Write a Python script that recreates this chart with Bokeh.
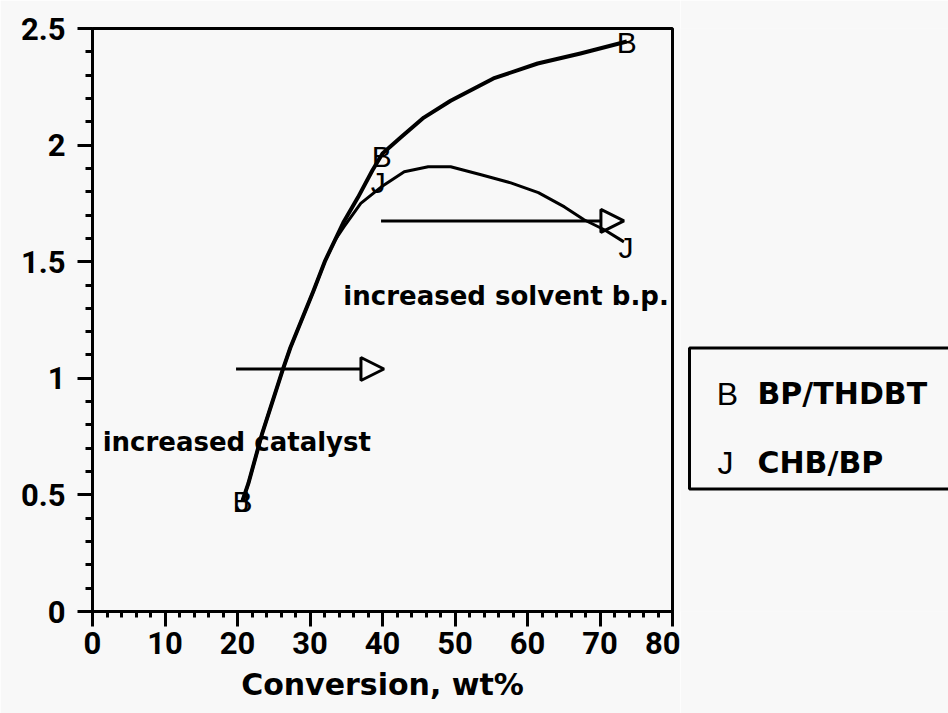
from bokeh.plotting import figure
from bokeh.models import Range1d, FixedTicker, Arrow, NormalHead, Label
from bokeh.layouts import row
from bokeh.embed import file_html
from bokeh.resources import INLINE
from bokeh.core.properties import value

# ---------------- data ----------------
series_names = ["BP/THDBT", "CHB/BP"]
series_symbols = ["B", "J"]

conv_bp = [20.7, 39.9, 73.7]
ratio_bp = [0.47, 1.95, 2.44]
conv_chb = [20.7, 39.4, 73.6]
ratio_chb = [0.47, 1.84, 1.56]

curve_bp_x = [20.7, 21.5, 23.4, 26.2, 27.3, 30.5, 32.1, 34.6, 36.6, 38.6, 40.0,
              42.5, 45.7, 49.4, 55.3, 61.4, 67.3, 73.7]
curve_bp_y = [0.476, 0.549, 0.763, 1.033, 1.132, 1.376, 1.505, 1.668, 1.775, 1.891, 1.964,
              2.033, 2.118, 2.19, 2.286, 2.35, 2.393, 2.444]

curve_chb_x = [20.7, 21.5, 23.4, 26.2, 27.3, 30.5, 32.1, 33.5, 34.7, 37.0, 39.8,
               43.0, 46.3, 49.4, 53.6, 57.7, 61.5, 65.1, 67.8, 70.6, 73.3]
curve_chb_y = [0.476, 0.549, 0.763, 1.033, 1.132, 1.376, 1.505, 1.595, 1.65, 1.75, 1.82,
               1.886, 1.907, 1.907, 1.873, 1.838, 1.796, 1.735, 1.68, 1.637, 1.585]

arrow_x_start = [19.8, 39.8]
arrow_x_end = [40.2, 73.3]
arrow_y = [1.04, 1.675]
note_texts = ["increased catalyst", "increased solvent b.p."]
note_x = [1.4, 34.6]
note_y = [0.725, 1.355]

x_ticks = [0, 10, 20, 30, 40, 50, 60, 70, 80]
y_ticks = [0, 0.5, 1, 1.5, 2, 2.5]
y_tick_labels = ["0", "0.5", "1", "1.5", "2", "2.5"]
x_label = "Conversion, wt%"

# ---------------- style ----------------
BG = "#f8f8f8"
BOLD_FONT = "DejaVu Sans"
TICK_FONT = "Roboto"
SYM_FONT = "Liberation Sans"
H = 713

p = figure(width=680, height=H, x_range=Range1d(0, 80), y_range=Range1d(0, 2.5),
           toolbar_location=None, output_backend="svg",
           min_border_left=92, min_border_right=8, min_border_top=28, min_border_bottom=102)
p.background_fill_color = BG
p.border_fill_color = BG
p.grid.visible = False
p.outline_line_color = "black"
p.outline_line_width = 3

xa = p.xaxis[0]
xa.ticker = FixedTicker(ticks=x_ticks, minor_ticks=[v for v in range(0, 81, 2)])
ya = p.yaxis[0]
ya.ticker = FixedTicker(ticks=y_ticks, minor_ticks=[v / 10 for v in range(0, 26)])
ya.major_label_overrides = dict(zip(y_ticks, y_tick_labels))

for ax in (xa, ya):
    ax.axis_line_width = 3
    ax.axis_line_color = "black"
    ax.major_tick_in = 0
    ax.minor_tick_in = 0
    ax.major_tick_out = 15
    ax.major_tick_line_width = 3
    ax.minor_tick_line_width = 3
    ax.major_tick_line_color = "black"
    ax.minor_tick_line_color = "black"
    ax.major_label_text_font = TICK_FONT
    ax.major_label_text_font_style = "bold"
    ax.major_label_text_font_size = "31px"
    ax.major_label_text_color = "black"

xa.minor_tick_out = 6
xa.major_label_standoff = 5
ya.minor_tick_out = 7
ya.major_label_standoff = 12

xa.axis_label = x_label
xa.axis_label_text_font = BOLD_FONT
xa.axis_label_text_font_style = "bold"
xa.axis_label_text_font_size = "30px"
xa.axis_label_text_color = "black"
xa.axis_label_standoff = 10

# curves
p.line(curve_bp_x, curve_bp_y, line_color="black", line_width=4, line_join="round")
p.line(curve_chb_x, curve_chb_y, line_color="black", line_width=3, line_join="round")

# letter markers
p.text(x=conv_bp, y=ratio_bp, text=[series_symbols[0]] * len(conv_bp),
       text_font=value(SYM_FONT), text_font_size=value("30px"),
       text_align="center", text_baseline="middle", text_color="black")
p.text(x=conv_chb, y=ratio_chb, text=[series_symbols[1]] * len(conv_chb),
       text_font=value(SYM_FONT), text_font_size=value("30px"),
       text_align="center", text_baseline="middle", text_color="black")

# arrows
for xs, xe, yy in zip(arrow_x_start, arrow_x_end, arrow_y):
    p.add_layout(Arrow(end=NormalHead(size=23, fill_color=None, line_color="black", line_width=3),
                       x_start=xs, y_start=yy, x_end=xe, y_end=yy,
                       line_color="black", line_width=3))

for t, xx, yy in zip(note_texts, note_x, note_y):
    p.add_layout(Label(x=xx, y=yy, text=t, text_font=BOLD_FONT, text_font_style="bold",
                       text_font_size="26px", text_baseline="alphabetic", text_color="black"))

# ---------------- legend panel (page-pixel coordinates) ----------------
LW = 948 - 680
leg = figure(width=LW, height=H, x_range=Range1d(0, LW), y_range=Range1d(102, H - 28),
             toolbar_location=None, output_backend="svg",
             min_border_left=0, min_border_right=0, min_border_top=28, min_border_bottom=102,
             x_axis_location=None, y_axis_location=None)
leg.background_fill_color = BG
leg.border_fill_color = BG
leg.grid.visible = False
leg.outline_line_color = None
leg.quad(left=[9], right=[400], top=[H - 347.5], bottom=[H - 488.5], fill_color=None,
         line_color="black", line_width=3)
leg.text(x=[47, 45], y=[H - 393, H - 462], text=series_symbols, text_font=value(SYM_FONT),
         text_font_size=value("32px"), text_align="center", text_baseline="alphabetic",
         text_color="black")
leg.text(x=[77, 77], y=[H - 393, H - 462], text=series_names, text_font=value(BOLD_FONT),
         text_font_style="bold", text_font_size=value("30px"), text_align="left",
         text_baseline="alphabetic", text_color="black")

layout = row(p, leg, spacing=0)
open("out.html", "w").write(file_html(layout, INLINE))
